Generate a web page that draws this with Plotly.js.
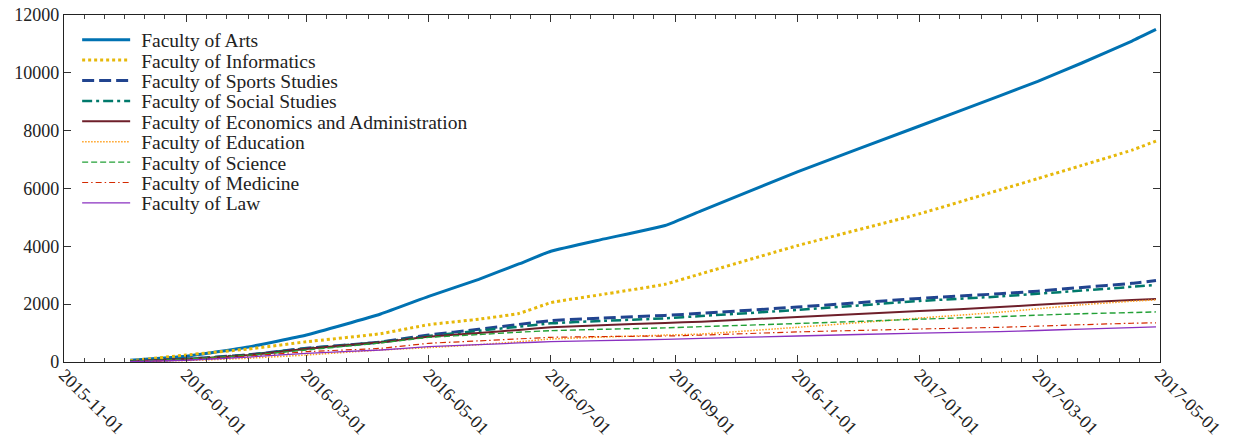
<!DOCTYPE html>
<html>
<head>
<meta charset="utf-8">
<script src="https://cdn.plot.ly/plotly-3.0.1.min.js"></script>
<style>
  html, body { margin: 0; padding: 0; background: #fff; }
  #chart { width: 1236px; height: 438px; }
</style>
</head>
<body>
<div id="chart"></div>
<script>
// Sample dates (shared by all series)
const dates = [
  "2015-12-04", "2016-01-01", "2016-02-01", "2016-03-01", "2016-04-07",
  "2016-05-01", "2016-05-26", "2016-06-15", "2016-07-01", "2016-07-26",
  "2016-08-27", "2016-09-14", "2016-11-01", "2017-01-01", "2017-02-10",
  "2017-03-01", "2017-03-23", "2017-04-17", "2017-04-29"
];

const facultyNames = [
  "Faculty of Arts", "Faculty of Informatics", "Faculty of Sports Studies",
  "Faculty of Social Studies", "Faculty of Economics and Administration",
  "Faculty of Education", "Faculty of Science", "Faculty of Medicine", "Faculty of Law"
];

const arts        = [60, 200, 520, 934, 1660, 2270, 2860, 3390, 3830, 4232, 4719, 5225, 6574, 8162, 9206, 9704, 10340, 11100, 11500];
const informatics = [40, 242, 450, 700, 980, 1290, 1480, 1680, 2050, 2330, 2690, 3054, 4023, 5125, 5950, 6342, 6800, 7328, 7640];
const sports      = [20, 100, 250, 473, 690, 934, 1130, 1300, 1430, 1520, 1610, 1683, 1900, 2200, 2360, 2450, 2580, 2720, 2818];
const social      = [20, 100, 250, 470, 690, 900, 1080, 1220, 1337, 1420, 1510, 1591, 1800, 2110, 2265, 2360, 2470, 2600, 2666];
const economics   = [20, 100, 240, 460, 680, 876, 1000, 1110, 1199, 1270, 1350, 1395, 1560, 1760, 1900, 1980, 2060, 2140, 2182];
const education   = [10, 50, 130, 242, 415, 496, 600, 700, 795, 860, 930, 968, 1200, 1520, 1720, 1840, 1980, 2100, 2150];
const science     = [20, 100, 230, 415, 660, 850, 950, 1030, 1084, 1130, 1180, 1222, 1330, 1480, 1570, 1620, 1670, 1710, 1733];
const medicine    = [10, 70, 200, 357, 473, 645, 730, 800, 853, 880, 899, 930, 1040, 1140, 1200, 1240, 1290, 1340, 1356];
const law         = [10, 60, 170, 300, 415, 530, 600, 660, 703, 740, 784, 819, 900, 1000, 1050, 1090, 1140, 1190, 1214];

const seriesValues = [arts, informatics, sports, social, economics, education, science, medicine, law];

const styles = [
  {color: "#0072b2", width: 3,   dash: "solid"},
  {color: "#e6b80a", width: 3,   dash: "3px,3px"},
  {color: "#21448f", width: 3,   dash: "12px,5px"},
  {color: "#00796b", width: 2.5, dash: "10px,4px,3px,4px"},
  {color: "#6e1f2a", width: 2,   dash: "solid"},
  {color: "#ff9f1c", width: 1.5, dash: "1.5px,1.5px"},
  {color: "#22a036", width: 1.4, dash: "6px,3px"},
  {color: "#d42a00", width: 1.2, dash: "6px,3px,1.5px,3px"},
  {color: "#8a30c0", width: 1.3, dash: "solid"}
];

const traces = facultyNames.map((name, i) => ({
  type: "scatter",
  mode: "lines",
  name: name,
  x: dates,
  y: seriesValues[i],
  line: {color: styles[i].color, width: styles[i].width, dash: styles[i].dash, shape: "spline", smoothing: 0.4}
}));

// minor ticks on the 1st, 11th and 21st of each month
const minorVals = [];
for (let y = 2015; y <= 2017; y++) {
  for (let m = 1; m <= 12; m++) {
    for (const d of [1, 11, 21]) {
      const s = y + "-" + String(m).padStart(2, "0") + "-" + String(d).padStart(2, "0");
      if (s >= "2015-11-01" && s <= "2017-05-01") minorVals.push(s);
    }
  }
}

const FAMILY = '"Liberation Serif", "Times New Roman", serif';
const tickFont = {family: FAMILY, size: 18, color: "#222"};

const layout = {
  width: 1236, height: 438,
  margin: {l: 64, r: 76, t: 15, b: 76},
  paper_bgcolor: "#fff", plot_bgcolor: "#fff",
  font: {family: FAMILY, size: 18, color: "#222"},
  showlegend: true,
  legend: {
    x: 0.012, y: 0.975, xanchor: "left", yanchor: "top",
    bgcolor: "rgba(255,255,255,0)", borderwidth: 0,
    itemwidth: 48,
    font: {family: FAMILY, size: 19.5, color: "#222"}
  },
  xaxis: {
    type: "date",
    range: ["2015-11-01", "2017-05-01"],
    tick0: "2015-11-01", dtick: "M2",
    tickformat: "%Y-%m-%d",
    tickangle: 45,
    ticklabelstandoff: -6,
    ticks: "inside", ticklen: 7, tickwidth: 1, tickcolor: "#333",
    minor: {tickmode: "array", tickvals: minorVals, ticks: "inside", ticklen: 4, tickwidth: 1, tickcolor: "#444", showgrid: false},
    showline: true, linecolor: "#222", linewidth: 1.2, mirror: "allticks",
    showgrid: false, zeroline: false,
    tickfont: tickFont
  },
  yaxis: {
    range: [0, 12000],
    tick0: 0, dtick: 2000,
    tickformat: "d",
    ticks: "inside", ticklen: 7, tickwidth: 1, tickcolor: "#333",
    showline: true, linecolor: "#222", linewidth: 1.2, mirror: "allticks",
    showgrid: false, zeroline: false,
    tickfont: tickFont
  }
};

// compact legend rows to match the reference's line spacing
function compactLegend() {
  const items = document.querySelectorAll("#chart g.legend g.traces");
  const rowGap = 20.4;
  items.forEach((g, i) => {
    const t = g.getAttribute("transform") || "";
    const m = t.match(/translate\(([-\d.]+)[ ,]+([-\d.]+)\)/);
    const x = m ? parseFloat(m[1]) : 0;
    g.setAttribute("transform", "translate(" + x + "," + (16 + i * rowGap) + ")");
    const txt = g.querySelector("text.legendtext");
    if (txt) {
      const tx = parseFloat(txt.getAttribute("x") || "0");
      txt.setAttribute("x", tx + 6);
    }
  });
}

Plotly.newPlot("chart", traces, layout, {displayModeBar: false, staticPlot: true}).then(compactLegend);
</script>
</body>
</html>
